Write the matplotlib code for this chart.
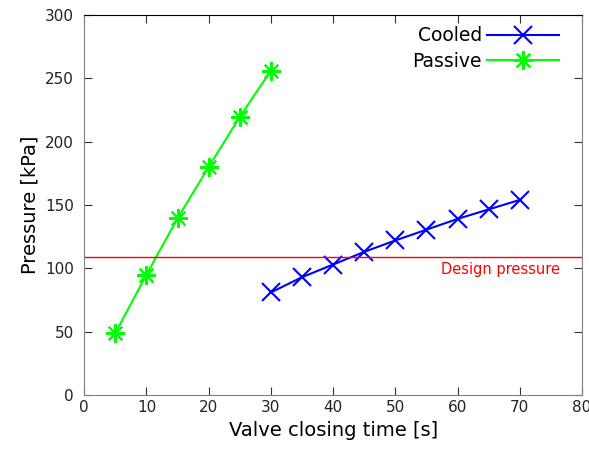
import numpy as np
import matplotlib
matplotlib.use('Agg')
import matplotlib.pyplot as plt

# datos
t_pasivo = [5, 10, 15, 20, 25, 30]
p_pasivo = [49, 95, 139.5, 180, 219.5, 256]
t_enfriado = [30, 35, 40, 45, 50, 55, 60, 65, 70]
p_enfriado = [81, 93, 103, 113, 122, 130.5, 139, 146.5, 154]
p_diseno = 109
xticks = np.arange(0, 81, 10)
yticks = np.arange(0, 301, 50)

fig = plt.figure(figsize=(5.89, 4.5), dpi=100)
ax = fig.add_axes([0.143, 0.122, 0.845, 0.845])

ax.plot(t_enfriado, p_enfriado, color='#0000ff', marker='x', markersize=12.5,
        markeredgewidth=1.5, linewidth=1.5, label='Cooled')
ax.plot(t_pasivo, p_pasivo, color='#00ff00', marker=(8, 2, 0), markersize=13.5,
        markeredgewidth=1.5, linewidth=1.5, label='Passive')
ax.axhline(p_diseno, color='#ff0000', linewidth=1)
ax.text(76.5, p_diseno - 4, 'Design pressure', color='#ff0000', fontsize=10.5,
        ha='right', va='top')

ax.set_xlim(0, 80)
ax.set_ylim(0, 300)
ax.set_xticks(xticks)
ax.set_yticks(yticks)
ax.tick_params(direction='in', length=6, top=True, right=True,
               labelsize=11, labelcolor='#222222', color='#333333')
ax.tick_params(axis='y', pad=7.5)
for s in ['left', 'bottom', 'right']:
    ax.spines[s].set_color('#808080')
ax.spines['top'].set_color('black')

ax.set_xlabel('Valve closing time [s]', fontsize=14)
ax.set_ylabel('Pressure [kPa]', fontsize=14)

ax.legend(loc='upper right', frameon=False, markerfirst=False, fontsize=13.5,
          handlelength=3.8, handletextpad=0.3, borderaxespad=0.2,
          labelspacing=0.35, bbox_to_anchor=(1 - 12 / 498, 1.0))

fig.savefig('out.png', dpi=100)
